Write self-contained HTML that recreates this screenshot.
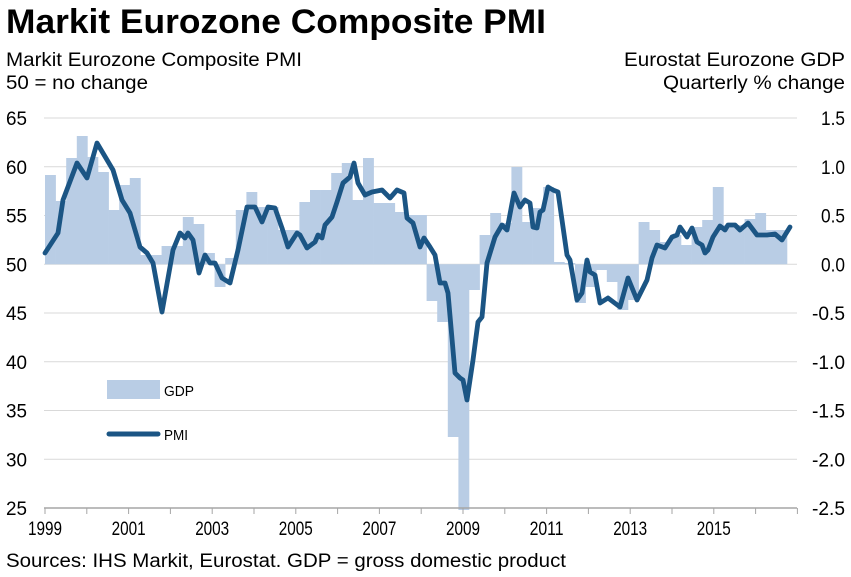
<!DOCTYPE html>
<html><head><meta charset="utf-8"><style>
body{margin:0;background:#fff;}
svg{display:block;font-family:"Liberation Sans Narrow","Liberation Sans",sans-serif;}
</style></head><body>
<svg id="s" width="851" height="577" viewBox="0 0 851 577" xmlns="http://www.w3.org/2000/svg">
<text x="6" y="33" font-size="34" font-weight="bold" textLength="540" lengthAdjust="spacingAndGlyphs">Markit Eurozone Composite PMI</text>
<text x="6" y="66" font-size="19" textLength="296" lengthAdjust="spacingAndGlyphs">Markit Eurozone Composite PMI</text>
<text x="6" y="89" font-size="19" textLength="142" lengthAdjust="spacingAndGlyphs">50 = no change</text>
<text x="845" y="66" font-size="19" text-anchor="end" textLength="221" lengthAdjust="spacingAndGlyphs">Eurostat Eurozone GDP</text>
<text x="845" y="89" font-size="19" text-anchor="end" textLength="182" lengthAdjust="spacingAndGlyphs">Quarterly % change</text>
<g id="grid" stroke="#d9d9d9" stroke-width="1"></g>
<g id="bars" fill="#b9cde5"></g>
<line x1="44" y1="508" x2="797" y2="508" stroke="#a6a6a6" stroke-width="1.5"/>
<g id="ticks" stroke="#a6a6a6" stroke-width="1"></g>
<g id="lab" font-size="19"></g>
<polyline id="pmi" fill="none" stroke="#1b5584" stroke-width="4.8" stroke-linejoin="round" stroke-linecap="round"/>
<rect x="107" y="380" width="53" height="19" fill="#b9cde5"/>
<text x="164" y="396" font-size="15" textLength="30" lengthAdjust="spacingAndGlyphs">GDP</text>
<line x1="109" y1="434" x2="158" y2="434" stroke="#1b5584" stroke-width="5" stroke-linecap="round"/>
<text x="164" y="440" font-size="15" textLength="24" lengthAdjust="spacingAndGlyphs">PMI</text>
<text x="6" y="567" font-size="19" textLength="560" lengthAdjust="spacingAndGlyphs">Sources: IHS Markit, Eurostat. GDP = gross domestic product</text>
</svg>
<script>
var NS="http://www.w3.org/2000/svg";
function el(p,t,a,txt){var e=document.createElementNS(NS,t);for(var k in a)e.setAttribute(k,a[k]);if(txt!==undefined)e.textContent=txt;document.getElementById(p).appendChild(e);return e;}
var rl=["1.5","1.0","0.5","0.0","-0.5","-1.0","-1.5","-2.0","-2.5"];
for(var i=0;i<9;i++){var v=65-5*i,y=508-(v-25)*9.75;
 if(i<8)el("grid","line",{x1:44,x2:797,y1:y,y2:y});
 el("lab","text",{x:6,y:y+7,textLength:21,lengthAdjust:"spacingAndGlyphs"},String(v));
 var s=rl[i];
 el("lab","text",{x:845,y:y+7,"text-anchor":"end",textLength:s.length==4?33:24,lengthAdjust:"spacingAndGlyphs"},s);}
for(var yr=1999;yr<=2017;yr++){var x=45+(yr-1999)*41.8;
 el("ticks","line",{x1:x,x2:x,y1:508,y2:514});
 if((yr-1999)%2==0&&yr<2017)el("lab","text",{x:x-17,y:535,textLength:34,lengthAdjust:"spacingAndGlyphs"},String(yr));}
var b=[175,201,158,136,157,172,210,185,178,255,255,246,246,217,224,253,287,258,210,192,
207,207,230,230,202,190,190,173,163,200,158,203,203,212,215,215,301,322,437,510,
290,235,213,223,167,222,208,187,262,263,303,287,270,282,310,300,222,230,242,235,
245,227,220,187,225,225,219,213,230,230];
var z=264.25;
for(var q=0;q<b.length;q++){var x0=45+q*10.6,t=b[q];
 el("bars","rect",{x:x0,y:Math.min(t,z),width:10.9,height:Math.abs(t-z)});}
var p=[[45,253],[58,233],[63,200],[77,163],[87,178],[97,143],[113,170],[122,200],[130,213],[140,247],[147,253],[153,263],[162,312],[173,250],[180,233],[185,238],[188,233],[193,240],[199,273],[205,255],[210,263],[215,263],[222,278],[230,283],[238,250],[247,207],[255,207],[262,222],[268,207],[275,208],[282,228],[288,247],[297,233],[300,235],[307,248],[315,242],[318,235],[322,238],[325,225],[332,217],[337,202],[343,183],[350,177],[354,163],[358,183],[365,195],[372,192],[382,190],[390,198],[397,190],[404,193],[407,218],[413,223],[420,247],[424,238],[430,247],[435,255],[440,283],[445,283],[448,293],[455,373],[460,378],[463,380],[467,400],[473,360],[478,322],[482,317],[487,263],[495,237],[502,225],[507,230],[514,193],[520,207],[525,200],[530,203],[533,227],[537,228],[540,212],[543,210],[548,187],[553,190],[558,192],[567,255],[570,260],[577,300],[582,293],[587,260],[590,272],[595,275],[600,303],[608,298],[620,307],[628,278],[637,300],[647,280],[652,258],[657,245],[665,248],[672,237],[677,235],[680,227],[687,237],[692,228],[697,242],[702,245],[705,253],[708,250],[713,237],[720,226],[725,230],[728,225],[735,225],[740,230],[748,223],[757,235],[767,235],[775,234],[782,240],[790,227]];
document.getElementById("pmi").setAttribute("points",p.map(function(a){return a.join(",")}).join(" "));
</script>
</body></html>
